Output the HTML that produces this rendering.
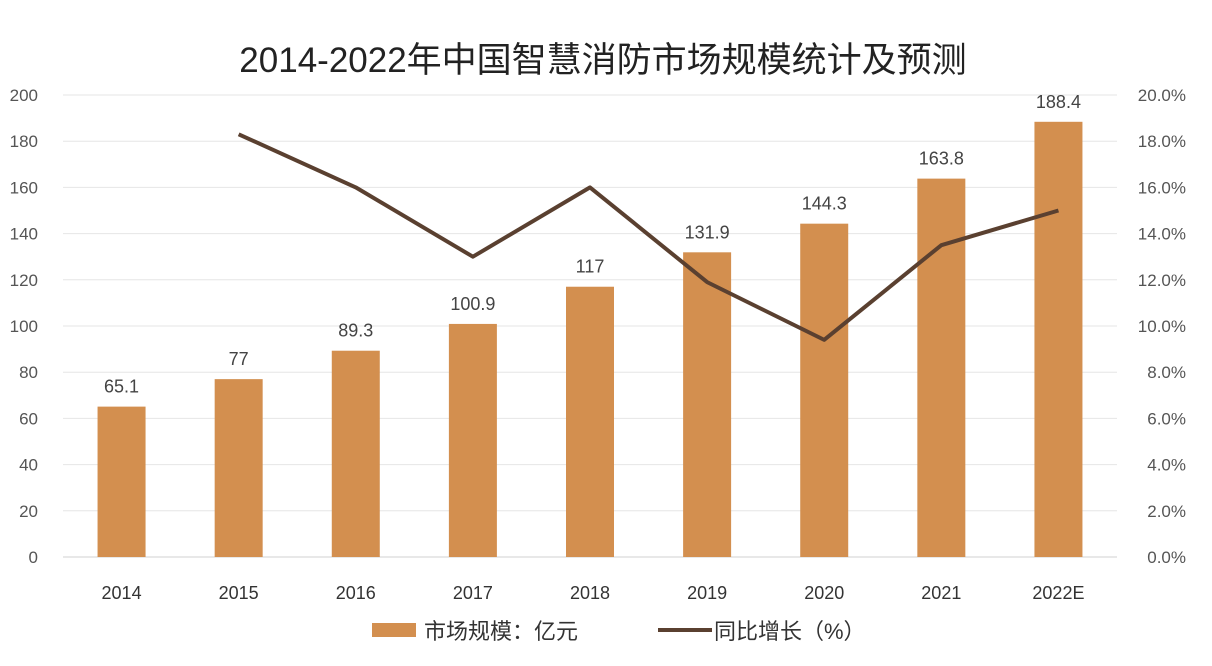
<!DOCTYPE html>
<html><head><meta charset="utf-8"><style>
body{margin:0;background:#fff;}
svg text{font-family:"Liberation Sans","Noto Sans CJK SC",sans-serif;}
</style></head><body>
<svg id="c" width="1212" height="661" xmlns="http://www.w3.org/2000/svg">
<rect width="1212" height="661" fill="#fff"/>
<text x="603" y="72" font-size="35" text-anchor="middle" fill="#222">2014-2022年中国智慧消防市场规模统计及预测</text>
<g id="grid"></g><g id="bars"></g><g id="line"></g><g id="labels"></g>
<g>
<rect x="372" y="623" width="44" height="14" fill="#D38F4F"/>
<text x="424" y="639" font-size="22" fill="#333">市场规模：亿元</text>
<line x1="658" y1="630" x2="712" y2="630" stroke="#5A4030" stroke-width="4"/>
<text x="714" y="639" font-size="22" fill="#333">同比增长（%）</text>
</g>
</svg>
<script>
const categories=["2014","2015","2016","2017","2018","2019","2020","2021","2022E"];
const marketSize=[65.1,77,89.3,100.9,117,131.9,144.3,163.8,188.4];
const growth=[null,18.3,16.0,13.0,16.0,11.9,9.4,13.5,15.0];
const leftTicks=[0,20,40,60,80,100,120,140,160,180,200];
const rightTicks=[0,2,4,6,8,10,12,14,16,18,20];
const NS="http://www.w3.org/2000/svg";
const x0=63,x1=1117,yTop=95,yBot=557;
const band=(x1-x0)/categories.length;
const xc=i=>x0+band*(i+0.5);
const yL=v=>yBot-(v/200)*(yBot-yTop);
const yR=v=>yBot-(v/20)*(yBot-yTop);
function mk(t,a,p){const e=document.createElementNS(NS,t);for(const k in a)e.setAttribute(k,a[k]);document.getElementById(p).appendChild(e);return e;}
leftTicks.forEach((v,i)=>{
  const l=mk('line',{x1:x0,x2:x1,y1:yL(v),y2:yL(v),stroke:i===0?'#d0d0d0':'#e6e6e6','stroke-width':1},'grid');
  
  
  const t=mk('text',{x:38,y:yL(v)+6,'font-size':17,'text-anchor':'end',fill:'#555'},'grid');t.textContent=v;
  
  
});
rightTicks.forEach(v=>{
  const t=mk('text',{x:1186,y:yR(v)+6,'font-size':17,'text-anchor':'end',fill:'#555'},'grid');t.textContent=v.toFixed(1)+'%';
  
  
});
const bw=48;
categories.forEach((c,i)=>{
  const v=marketSize[i];
  const r=mk('rect',{x:xc(i)-bw/2,y:yL(v),width:bw,height:yBot-yL(v),fill:'#D38F4F'},'bars');
  
  
  const t=mk('text',{x:xc(i),y:yL(v)-14,'font-size':18,'text-anchor':'middle',fill:'#444'},'labels');t.textContent=v;
  
  
  const ct=mk('text',{x:xc(i),y:599,'font-size':18,'text-anchor':'middle',fill:'#333'},'labels');ct.textContent=c;
  
  
});
let d='';growth.forEach((g,i)=>{if(g==null)return;d+=(d?'L':'M')+xc(i)+','+yR(g);});
const p=mk('path',{d:d,fill:'none',stroke:'#5A4030','stroke-width':4,'stroke-linejoin':'round'},'line');


</script>
</body></html>
